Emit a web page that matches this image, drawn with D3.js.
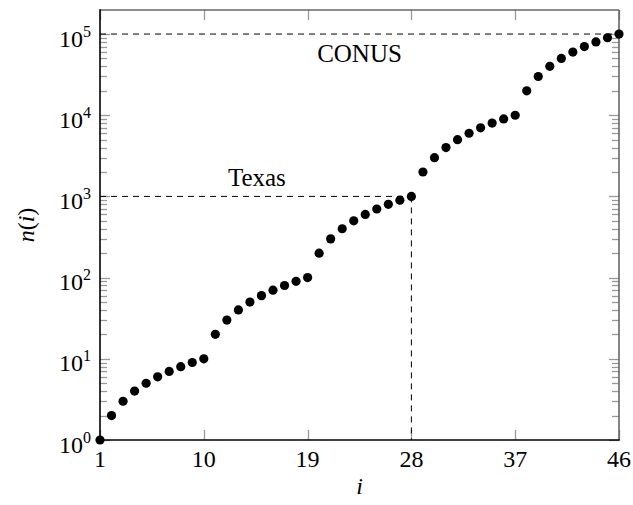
<!DOCTYPE html>
<html>
<head>
<meta charset="utf-8">
<script src="https://cdn.jsdelivr.net/npm/d3@7"></script>
<style>
  html, body { margin: 0; padding: 0; background: #fff; }
  svg text { font-family: "Liberation Serif", "Times New Roman", serif; fill: #000; }
</style>
</head>
<body>
<svg id="chart" width="633" height="505"></svg>
<script>
// index i of each region level
const indices = d3.range(1, 47);
// number of cells n(i) at each level
const counts = [
  1, 2, 3, 4, 5, 6, 7, 8, 9, 10,
  20, 30, 40, 50, 60, 70, 80, 90, 100,
  200, 300, 400, 500, 600, 700, 800, 900, 1000,
  2000, 3000, 4000, 5000, 6000, 7000, 8000, 9000, 10000,
  20000, 30000, 40000, 50000, 60000, 70000, 80000, 90000, 100000
];
const xTicks = [1, 10, 19, 28, 37, 46];
const yDecades = [0, 1, 2, 3, 4, 5];
// reference levels
const refLabels = ["CONUS", "Texas"];
const refIndex = [46, 28];
const refValue = [100000, 1000];
const refLabelAt = [23.5, 14.6];

const svg = d3.select("#chart");
const plotLeft = 100, plotRight = 619, plotTop = 10, plotBottom = 440;

const x = d3.scaleLinear().domain([1, 46]).range([plotLeft, plotRight]);
const y = d3.scaleLog().domain([1, Math.pow(10, 5.296)]).range([plotBottom, plotTop]);

// minor ticks 2..9 per decade
const minor = [];
for (let d = 0; d < 5; d++) for (let k = 2; k <= 9; k++) minor.push(k * Math.pow(10, d));
const major = yDecades.map(d => Math.pow(10, d));

const tickColor = "#999";
const g = svg.append("g");

// y ticks, both sides, pointing inward
[[plotLeft, 1], [plotRight, -1]].forEach(([x0, dir]) => {
  g.selectAll(null).data(minor).enter().append("line")
    .attr("x1", x0).attr("x2", x0 + dir * 7)
    .attr("y1", d => Math.round(y(d)) + 0.5).attr("y2", d => Math.round(y(d)) + 0.5)
    .attr("stroke", tickColor).attr("stroke-width", 1.3);
  g.selectAll(null).data(major).enter().append("line")
    .attr("x1", x0).attr("x2", x0 + dir * 10)
    .attr("y1", d => Math.round(y(d)) + 0.5).attr("y2", d => Math.round(y(d)) + 0.5)
    .attr("stroke", tickColor).attr("stroke-width", 1.3);
});
// x ticks, bottom and top
[[plotBottom, -1], [plotTop, 1]].forEach(([y0, dir]) => {
  g.selectAll(null).data(xTicks).enter().append("line")
    .attr("x1", d => Math.round(x(d)) + 0.5).attr("x2", d => Math.round(x(d)) + 0.5)
    .attr("y1", y0).attr("y2", y0 + dir * 10)
    .attr("stroke", tickColor).attr("stroke-width", 1.3);
});

// frame
svg.append("line").attr("x1", plotLeft).attr("x2", plotRight).attr("y1", plotTop).attr("y2", plotTop)
  .attr("stroke", "#666").attr("stroke-width", 1.6);
svg.append("line").attr("x1", plotRight).attr("x2", plotRight).attr("y1", plotTop).attr("y2", plotBottom)
  .attr("stroke", "#666").attr("stroke-width", 1.6);
svg.append("line").attr("x1", plotLeft).attr("x2", plotLeft).attr("y1", plotTop - 0.8).attr("y2", plotBottom + 0.8)
  .attr("stroke", "#000").attr("stroke-width", 1.6);
svg.append("line").attr("x1", plotLeft - 0.8).attr("x2", plotRight + 0.8).attr("y1", plotBottom).attr("y2", plotBottom)
  .attr("stroke", "#000").attr("stroke-width", 1.6);

// reference lines
const dash = "6,5";
refLabels.forEach((name, k) => {
  svg.append("line")
    .attr("x1", x(1)).attr("x2", x(refIndex[k]))
    .attr("y1", y(refValue[k])).attr("y2", y(refValue[k]))
    .attr("stroke", "#000").attr("stroke-width", 1).attr("stroke-dasharray", dash);
  if (refIndex[k] < 46) {
    svg.append("line")
      .attr("x1", x(refIndex[k])).attr("x2", x(refIndex[k]))
      .attr("y1", y(refValue[k])).attr("y2", y(1))
      .attr("stroke", "#000").attr("stroke-width", 1).attr("stroke-dasharray", dash);
  }
});
svg.append("text").attr("x", x(refLabelAt[0])).attr("y", y(refValue[0]) + 28)
  .attr("text-anchor", "middle").attr("font-size", 25).text(refLabels[0]);
svg.append("text").attr("x", x(refLabelAt[1])).attr("y", y(refValue[1]) - 10)
  .attr("text-anchor", "middle").attr("font-size", 25).text(refLabels[1]);

// points
svg.append("g").selectAll("circle").data(indices).enter().append("circle")
  .attr("cx", d => x(d)).attr("cy", (d, k) => y(counts[k]))
  .attr("r", 4.6).attr("fill", "#000");

// y tick labels 10^d
const yl = svg.append("g");
yDecades.forEach(d => {
  const t = yl.append("text").attr("x", 91).attr("y", y(Math.pow(10, d)) + 12.5)
    .attr("text-anchor", "end").attr("font-size", 24);
  t.append("tspan").text("10");
  t.append("tspan").attr("font-size", 16).attr("dy", -10).text(String(d));
});

// x tick labels
svg.append("g").selectAll("text").data(xTicks).enter().append("text")
  .attr("x", d => x(d)).attr("y", 467)
  .attr("text-anchor", "middle").attr("font-size", 24).text(d => d);

// axis titles
svg.append("text").attr("x", (plotLeft + plotRight) / 2).attr("y", 494)
  .attr("text-anchor", "middle").attr("font-size", 24).attr("font-style", "italic").text("i");
const yt = svg.append("text").attr("transform", `translate(34,${(plotTop + plotBottom) / 2}) rotate(-90)`)
  .attr("text-anchor", "middle").attr("font-size", 24);
yt.append("tspan").attr("font-style", "italic").text("n");
yt.append("tspan").text("(");
yt.append("tspan").attr("font-style", "italic").text("i");
yt.append("tspan").text(")");
</script>
</body>
</html>
